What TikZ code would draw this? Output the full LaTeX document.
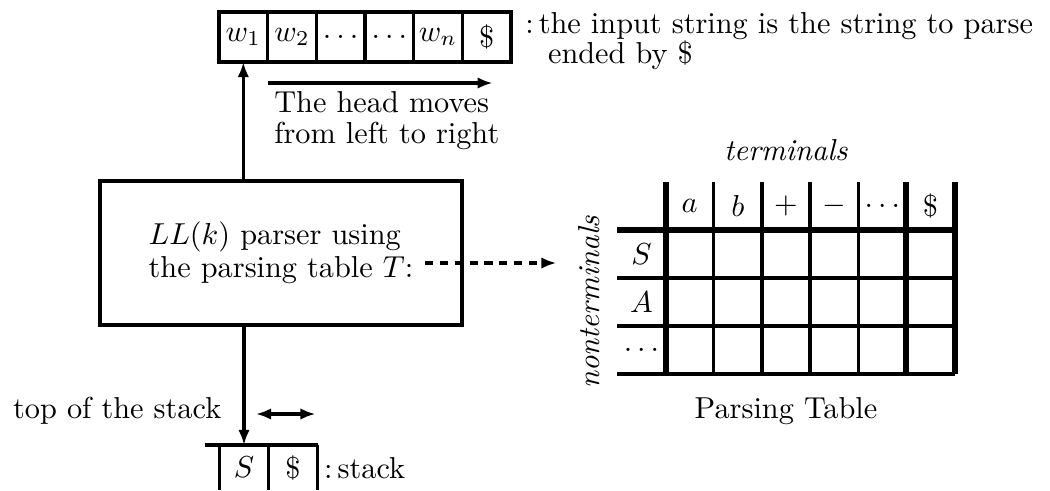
\documentclass[tikz,border=0pt]{standalone}
\usepackage{amsmath}
\usepackage{amssymb}
\usetikzlibrary{matrix,positioning,calc,arrows.meta}
\tikzset{
  tapecell/.style={draw, anchor=center, minimum width=16.06pt, minimum height=16.5pt, inner sep=0pt, outer sep=0pt},
  tabcell/.style={anchor=center, minimum width=15.9pt, minimum height=15.84pt, inner sep=0pt, outer sep=0pt},
  stkcell/.style={anchor=center, minimum width=16.17pt, minimum height=14.85pt, inner sep=0pt, outer sep=0pt},
  thickrule/.style={line width=2pt},
  tip/.style={-{Latex[length=5pt,width=3.8pt]}},
  twotip/.style={{Latex[length=5pt,width=3.8pt]}-{Latex[length=5pt,width=3.8pt]}},
}

\begin{document}
\begin{tikzpicture}[x=0.33pt, y=-0.33pt, line width=1.1pt]
  \useasboundingbox (0,0) rectangle (1050,490);
  \matrix (tape) [matrix of math nodes, nodes={tapecell}, column sep=-1.1pt, inner sep=0pt, outer sep=0pt] at (365,37)
  {
      w_1 & w_2 & \dots & \dots & w_n & \$ \\
  };
  \node (inputlbl) [anchor=north west, align=left, inner sep=0pt] at ($(tape.north east)+(11,0)$)
    {$:$\,the input string is the string to parse\\[-1.8pt] \hspace*{7.5pt}ended by \$};

  \coordinate (hstart) at ($(tape-1-2.south west)+(0,21)$);
  \coordinate (hend) at ($(tape-1-6.south)+(6,21)$);
  \draw[tip] (hstart) -- (hend);
  \node (headtxt) [anchor=north west, align=left, inner sep=0pt] at ($(hstart)+(5,7)$)
    {The head moves\\[-1.8pt] from left to right};

  \node (parser) [draw, minimum width=119.5pt, minimum height=47.5pt, align=left, outer sep=0pt] at (281,253)
    {$LL(k)$ parser using\\[-1.2pt] the parsing table $T$:};
  \draw[tip] (parser.north -| tape-1-1) -- (tape-1-1.south);

  \matrix (tab) [matrix of math nodes, nodes in empty cells, nodes={tabcell}, inner sep=0pt, outer sep=0pt] at (786,278)
  {
          & a & b & + & - & \dots & \$ \\
      S   &   &   &   &   &       &    \\
      A   &   &   &   &   &       &    \\
    \dots &   &   &   &   &       &    \\
  };
  \draw[thickrule] (tab-2-1.north west) -- (tab-2-7.north east);
  \foreach \r in {3,4}
    \draw (tab-\r-1.north west) -- (tab-\r-7.north east);
  \draw (tab-4-1.south west) -- (tab-4-7.south east);
  \foreach \c in {3,...,6}
    \draw (tab-1-\c.north west) -- (tab-4-\c.south west);
  \foreach \c in {2,7}
    \draw[thickrule] (tab-1-\c.north west) -- (tab-4-\c.south west);
  \draw[thickrule] (tab-1-7.north east) -- (tab-4-7.south east);

  \node (term) [above=3pt of tab] {\textit{terminals}};
  \node (nonterm) [rotate=90, anchor=south] at ([xshift=-2pt]tab-3-1.west) {\textit{nonterminals}};
  \node (ptable) [below=4pt of tab] {Parsing Table};

  \coordinate (tcolon) at ($(parser.center)+(144,10)$);
  \draw[tip, dash pattern=on 2.7pt off 2.2pt, shorten >=3.3pt] (tcolon) -- (tcolon -| nonterm.north);

  \matrix (stk) [matrix of math nodes, nodes={stkcell}, inner sep=0pt, outer sep=0pt] at (268.5,467.5)
  {
      S & \$ \\
  };
  \draw ($(stk-1-1.north west)+(-15,0)$) -- (stk-1-2.north east);
  \foreach \c in {1,2}
    \draw (stk-1-\c.north west) -- (stk-1-\c.south west);
  \draw (stk-1-2.north east) -- (stk-1-2.south east);
  \node (stacklbl) [anchor=base west, inner sep=0pt] at ($(stk-1-2.base east)+(5,0)$) {$:$\,stack};

  \draw[tip] (parser.south -| stk-1-1) -- (stk-1-1.north);
  \node (toplbl) [anchor=base east] at ($(stk-1-1.north)+(-11,-27)$) {top of the stack};
  \coordinate (sleft) at ($(stk-1-1.north)+(12,-31)$);
  \coordinate (sright) at ($(stk-1-2.north east)+(-2,-31)$);
  \draw[twotip] (sleft) -- (sright);
\end{tikzpicture}
\end{document}
